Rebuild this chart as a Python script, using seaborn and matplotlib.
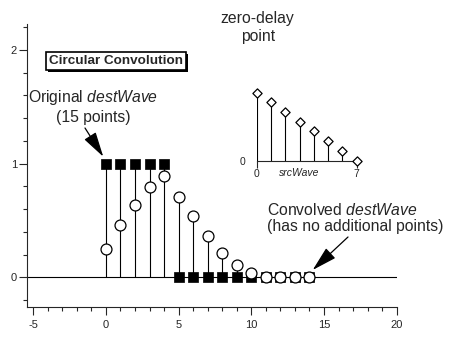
import numpy as np
import pandas as pd
import matplotlib
matplotlib.use("Agg")
import matplotlib.pyplot as plt
import matplotlib.patheffects as pe
import seaborn as sns

# ---- data ----
dest_x = [0, 1, 2, 3, 4, 5, 6, 7, 8, 9, 10, 11, 12, 13, 14]
dest_y = [1, 1, 1, 1, 1, 0, 0, 0, 0, 0, 0, 0, 0, 0, 0]
conv_y = [0.25, 0.46, 0.64, 0.79, 0.89, 0.71, 0.54, 0.36, 0.21, 0.11, 0.04, 0, 0, 0, 0]
src_x = [0, 1, 2, 3, 4, 5, 6, 7]
src_y = [1.0, 0.86, 0.71, 0.57, 0.43, 0.29, 0.14, 0.0]
x_major = [-5, 0, 5, 10, 15, 20]
y_major = [0, 1, 2]

sns.set_style("ticks")
plt.rcParams['font.family'] = ['Liberation Sans', 'DejaVu Sans']
plt.rcParams['mathtext.fontset'] = 'custom'
plt.rcParams['mathtext.rm'] = 'Liberation Sans'
plt.rcParams['mathtext.it'] = 'Liberation Sans:italic'
plt.rcParams['axes.linewidth'] = 0.8

fig = plt.figure(figsize=(4.55, 3.38), dpi=100)
ax = fig.add_axes([0.06, 0.0926, 0.8119, 0.8364])

df = pd.DataFrame({"x": dest_x, "dest": dest_y, "conv": conv_y})
top = np.maximum(df["dest"], df["conv"])
ax.vlines(df["x"], 0, top, color='black', lw=0.8, zorder=2)
ax.axhline(0, color='black', lw=0.8, zorder=1)
sns.scatterplot(data=df, x="x", y="dest", marker='s', s=50, color='black',
                edgecolor='black', linewidth=0.5, ax=ax, zorder=3, legend=False)
sns.scatterplot(data=df, x="x", y="conv", marker='o', s=62, color='white',
                edgecolor='black', linewidth=0.9, ax=ax, zorder=4, legend=False)

ax.set_xlim(-5.41, 20.0)
ax.set_ylim(-0.259, 2.228)
ax.set_xticks(x_major)
ax.set_xticks(np.arange(-5, 21, 1), minor=True)
ax.set_yticks(y_major)
ax.set_yticks(np.arange(-0.2, 2.25, 0.2), minor=True)
ax.set_xticklabels([str(v) for v in x_major])
ax.set_yticklabels([str(v) for v in y_major])
ax.tick_params(which='major', direction='out', length=5.5, width=0.8, labelsize=8)
ax.tick_params(axis='x', which='major', pad=4)
ax.tick_params(axis='y', which='major', pad=2)
ax.tick_params(which='minor', direction='out', length=3, width=0.8)
ax.set_xlabel('')
ax.set_ylabel('')
for s in ['top', 'right']:
    ax.spines[s].set_visible(False)

# ---- inset ----
ins = fig.add_axes([0.5642, 0.5246, 0.2198, 0.2012])
ins.patch.set_alpha(0)
sdf = pd.DataFrame({"x": src_x, "y": src_y})
ins.vlines(sdf["x"], 0, sdf["y"], color='black', lw=0.8, zorder=2)
sns.scatterplot(data=sdf, x="x", y="y", marker='D', s=22, color='white',
                edgecolor='black', linewidth=0.9, ax=ins, zorder=4,
                legend=False, clip_on=False)
ins.set_xlim(0, 7)
ins.set_ylim(0, 1)
ins.set_xticks([0, 7])
ins.set_xticklabels(['0', '7'])
ins.set_yticks([0])
ins.set_yticklabels(['0'])
ins.tick_params(axis='x', direction='out', length=5, width=0.8, labelsize=7.5, pad=1)
ins.tick_params(axis='y', length=0, labelsize=7.5, pad=8)
ins.set_xlabel('')
ins.set_ylabel('')
for s in ['top', 'right', 'left']:
    ins.spines[s].set_visible(False)
ins.text(3.0, -0.18, 'srcWave', style='italic', fontsize=7.5, ha='center', va='center')

# ---- annotations ----
fs = 11.3
t = fig.text(116, 277, 'Circular Convolution', transform=None, fontsize=9.7,
             fontweight='bold', ha='center', va='center',
             bbox=dict(boxstyle='square,pad=0.25', fc='white', ec='black', lw=1.2))
t.get_bbox_patch().set_path_effects([
    pe.SimplePatchShadow(offset=(1.5, -1.5), shadow_rgbFace='black', alpha=1),
    pe.Normal()])

fig.text(93.5, 236.3, r'Original $\mathit{destWave}$', transform=None,
         fontsize=fs, ha='center', va='baseline')
fig.text(93.5, 216.3, '(15 points)', transform=None,
         fontsize=fs, ha='center', va='baseline')
fig.text(257, 315.3, 'zero-delay', transform=None,
         fontsize=fs, ha='center', va='baseline')
fig.text(258, 297.3, 'point', transform=None,
         fontsize=fs, ha='center', va='baseline')
fig.text(267, 123, r'Convolved $\mathit{destWave}$', transform=None,
         fontsize=fs, ha='left', va='baseline')
fig.text(267, 107.3, '(has no additional points)', transform=None,
         fontsize=fs, ha='left', va='baseline')

arrow = dict(arrowstyle='-|>,head_length=1.55,head_width=0.42', color='black',
             lw=0.9, shrinkA=0, shrinkB=0, mutation_scale=10)
ax.annotate('', xy=(-0.186, 1.061), xycoords='data',
            xytext=(85, 210), textcoords='figure pixels', arrowprops=arrow)
ins.annotate('', xy=(0, 1.088), xycoords='data',
             xytext=(257, 291.3), textcoords='figure pixels', arrowprops=arrow)
ax.annotate('', xy=(14.22, 0.064), xycoords='data',
            xytext=(348, 101), textcoords='figure pixels', arrowprops=arrow)

fig.savefig('out.png', dpi=100)
